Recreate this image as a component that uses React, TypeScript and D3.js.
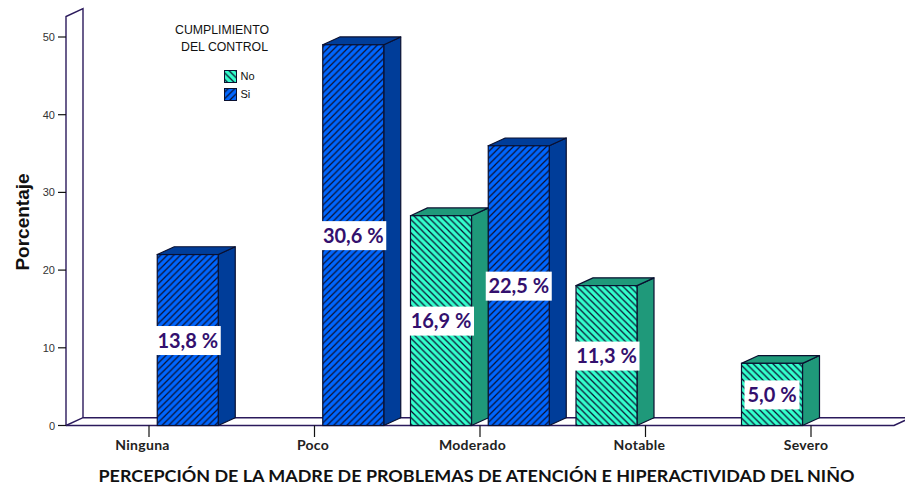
import React from "react";
import * as d3 from "d3";

const categories = ["Ninguna", "Poco", "Moderado", "Notable", "Severo"];
const seriesNames = ["No", "Si"];
const noValues: (number | null)[] = [null, null, 27, 18, 8];
const siValues: (number | null)[] = [22, 49, 36, null, null];
const noLabels = ["", "", "16,9 %", "11,3 %", "5,0 %"];
const siLabels = ["13,8 %", "30,6 %", "22,5 %", "", ""];
const yTicks = [0, 10, 20, 30, 40, 50];
const legendTitle = ["CUMPLIMIENTO", "DEL CONTROL"];
const yTitle = "Porcentaje";
const xTitle = "PERCEPCIÓN DE LA MADRE DE PROBLEMAS DE ATENCIÓN E HIPERACTIVIDAD DEL NIÑO";

const W = 905;
const H = 485;
const floorLeft = 66;
const floorRight = 894;
const depthX = 17;
const depthY = 7.8;
const barWidth = 61;
const slotOffsets = [-69.5, 8.25];
const categoryLabelNudge = [-6.5, -1.5, -7.5, -6, -5];
const INK = "#2b1a5c";
const EDGE = "#0a1030";
const LABEL = "#33106e";
const GEOMETRIC = "'Lato', 'Noto Sans', sans-serif";
const ARIAL = "'Liberation Sans', Arial, sans-serif";

const palette = [
  { face: "#33ffcc", side: "#1f997a", hatch: "url(#hatch-no)" },
  { face: "#0066ff", side: "#003d99", hatch: "url(#hatch-si)" },
];

const y = d3.scaleLinear().domain([0, 50]).range([425.5, 37]);
const x = d3.scaleBand<string>().domain(categories).range([66.25, 893.75]);

function Bar({ cx, slot, value }: { cx: number; slot: number; value: number }) {
  const c = palette[slot];
  const left = cx + slotOffsets[slot];
  const right = left + barWidth;
  const top = y(value);
  const base = y(0);
  const side =
    d3.line()([
      [right, top],
      [right + depthX, top - depthY],
      [right + depthX, base - depthY],
      [right, base],
    ]) + "Z";
  const lid =
    d3.line()([
      [left, top],
      [left + depthX, top - depthY],
      [right + depthX, top - depthY],
      [right, top],
    ]) + "Z";
  return (
    <g>
      <path d={side} fill={c.side} stroke={EDGE} strokeWidth={1.2} strokeLinejoin="round" />
      <path d={lid} fill={c.side} stroke={EDGE} strokeWidth={1.2} strokeLinejoin="round" />
      <rect x={left} y={top} width={barWidth} height={base - top} fill={c.face} />
      <rect x={left} y={top} width={barWidth} height={base - top} fill={c.hatch} stroke={EDGE} strokeWidth={1.2} />
    </g>
  );
}

function BarLabel({ cx, slot, value, label }: { cx: number; slot: number; value: number; label: string }) {
  const center = cx + slotOffsets[slot] + barWidth / 2;
  const mid = (y(value) + y(0)) / 2 + 0.5;
  const boxWidth = label.length * 11;
  return (
    <g>
      <rect x={center - boxWidth / 2} y={mid - 14.5} width={boxWidth} height={29} fill="#fff" />
      <text
        x={center}
        y={mid + 7}
        textAnchor="middle"
        fontFamily={GEOMETRIC}
        fontWeight={700}
        fontSize={20}
        fill={LABEL}
      >
        {label}
      </text>
    </g>
  );
}

export default function App() {
  const tickX = (c: string) => (x(c) as number) + x.bandwidth() / 2;
  return (
    <svg
      width={W}
      height={H}
      viewBox={`0 0 ${W} ${H}`}
      style={{ position: "fixed", left: 0, top: 0, display: "block", background: "#fff" }}
    >
      <defs>
        <pattern id="hatch-no" width={6.6} height={6.6} patternUnits="userSpaceOnUse">
          <path d="M-1,-1 L7.6,7.6 M-1,5.6 L1,7.6 M5.6,-1 L7.6,1" stroke={EDGE} strokeWidth={1.25} />
        </pattern>
        <pattern id="hatch-si" width={6.6} height={6.6} patternUnits="userSpaceOnUse">
          <path d="M-1,7.6 L7.6,-1 M-1,1 L1,-1 M5.6,7.6 L7.6,5.6" stroke={EDGE} strokeWidth={1.25} />
        </pattern>
      </defs>

      {/* back wall and floor */}
      <g fill="none" stroke={INK} strokeWidth={1.4}>
        <path d={`M${floorLeft},${y(0)} V16.5 L${floorLeft + depthX},8.7 V${y(0) - depthY}`} />
        <path d={`M${floorLeft},${y(0)} L${floorLeft + depthX},${y(0) - depthY} H${floorRight + depthX}`} />
        <path d={`M${floorLeft},${y(0)} H${floorRight} L${floorRight + depthX},${y(0) - depthY}`} strokeWidth={1.6} />
      </g>

      {/* value axis */}
      {yTicks.map((t) => (
        <g key={t}>
          <line x1={58} x2={floorLeft} y1={y(t)} y2={y(t)} stroke="#111" strokeWidth={1.2} />
          <text x={55} y={y(t) + 4} textAnchor="end" fontFamily={ARIAL} fontSize={11} fill="#333">
            {t}
          </text>
        </g>
      ))}

      {/* category axis */}
      {categories.map((c, i) => (
        <g key={c}>
          <line x1={tickX(c)} x2={tickX(c)} y1={y(0)} y2={437} stroke="#111" strokeWidth={1.2} />
          <text
            x={tickX(c) + categoryLabelNudge[i]}
            y={449.5}
            textAnchor="middle"
            fontFamily={GEOMETRIC}
            fontWeight={700}
            fontSize={14}
            letterSpacing={0.3}
            fill="#222"
          >
            {c}
          </text>
        </g>
      ))}

      {/* bars, left to right, with their value labels on top */}
      {categories.map((c, i) => (
        <g key={c}>
          {noValues[i] != null && <Bar cx={tickX(c)} slot={0} value={noValues[i] as number} />}
          {siValues[i] != null && <Bar cx={tickX(c)} slot={1} value={siValues[i] as number} />}
          {noValues[i] != null && (
            <BarLabel cx={tickX(c)} slot={0} value={noValues[i] as number} label={noLabels[i]} />
          )}
          {siValues[i] != null && (
            <BarLabel cx={tickX(c)} slot={1} value={siValues[i] as number} label={siLabels[i]} />
          )}
        </g>
      ))}

      {/* legend */}
      <g fontFamily={ARIAL} fill="#111">
        <text x={175} y={34} fontSize={12.3}>{legendTitle[0]}</text>
        <text x={181} y={50.5} fontSize={12.3}>{legendTitle[1]}</text>
        {seriesNames.map((s, i) => (
          <g key={s}>
            <rect x={224.5} y={70.5 + i * 18} width={12} height={12} fill={palette[i].face} />
            <rect x={224.5} y={70.5 + i * 18} width={12} height={12} fill={palette[i].hatch} stroke={EDGE} strokeWidth={1} />
            <text x={240.5} y={80 + i * 18} fontSize={11}>{s}</text>
          </g>
        ))}
      </g>

      {/* axis titles */}
      <text
        transform="translate(29,222) rotate(-90)"
        textAnchor="middle"
        fontFamily={ARIAL}
        fontWeight={700}
        fontSize={19}
        fill="#111"
      >
        {yTitle}
      </text>
      <text
        x={476.5}
        y={481.5}
        textAnchor="middle"
        fontFamily={GEOMETRIC}
        fontWeight={700}
        fontSize={17}
        textLength={756}
        lengthAdjust="spacingAndGlyphs"
        fill="#111"
      >
        {xTitle}
      </text>
    </svg>
  );
}
